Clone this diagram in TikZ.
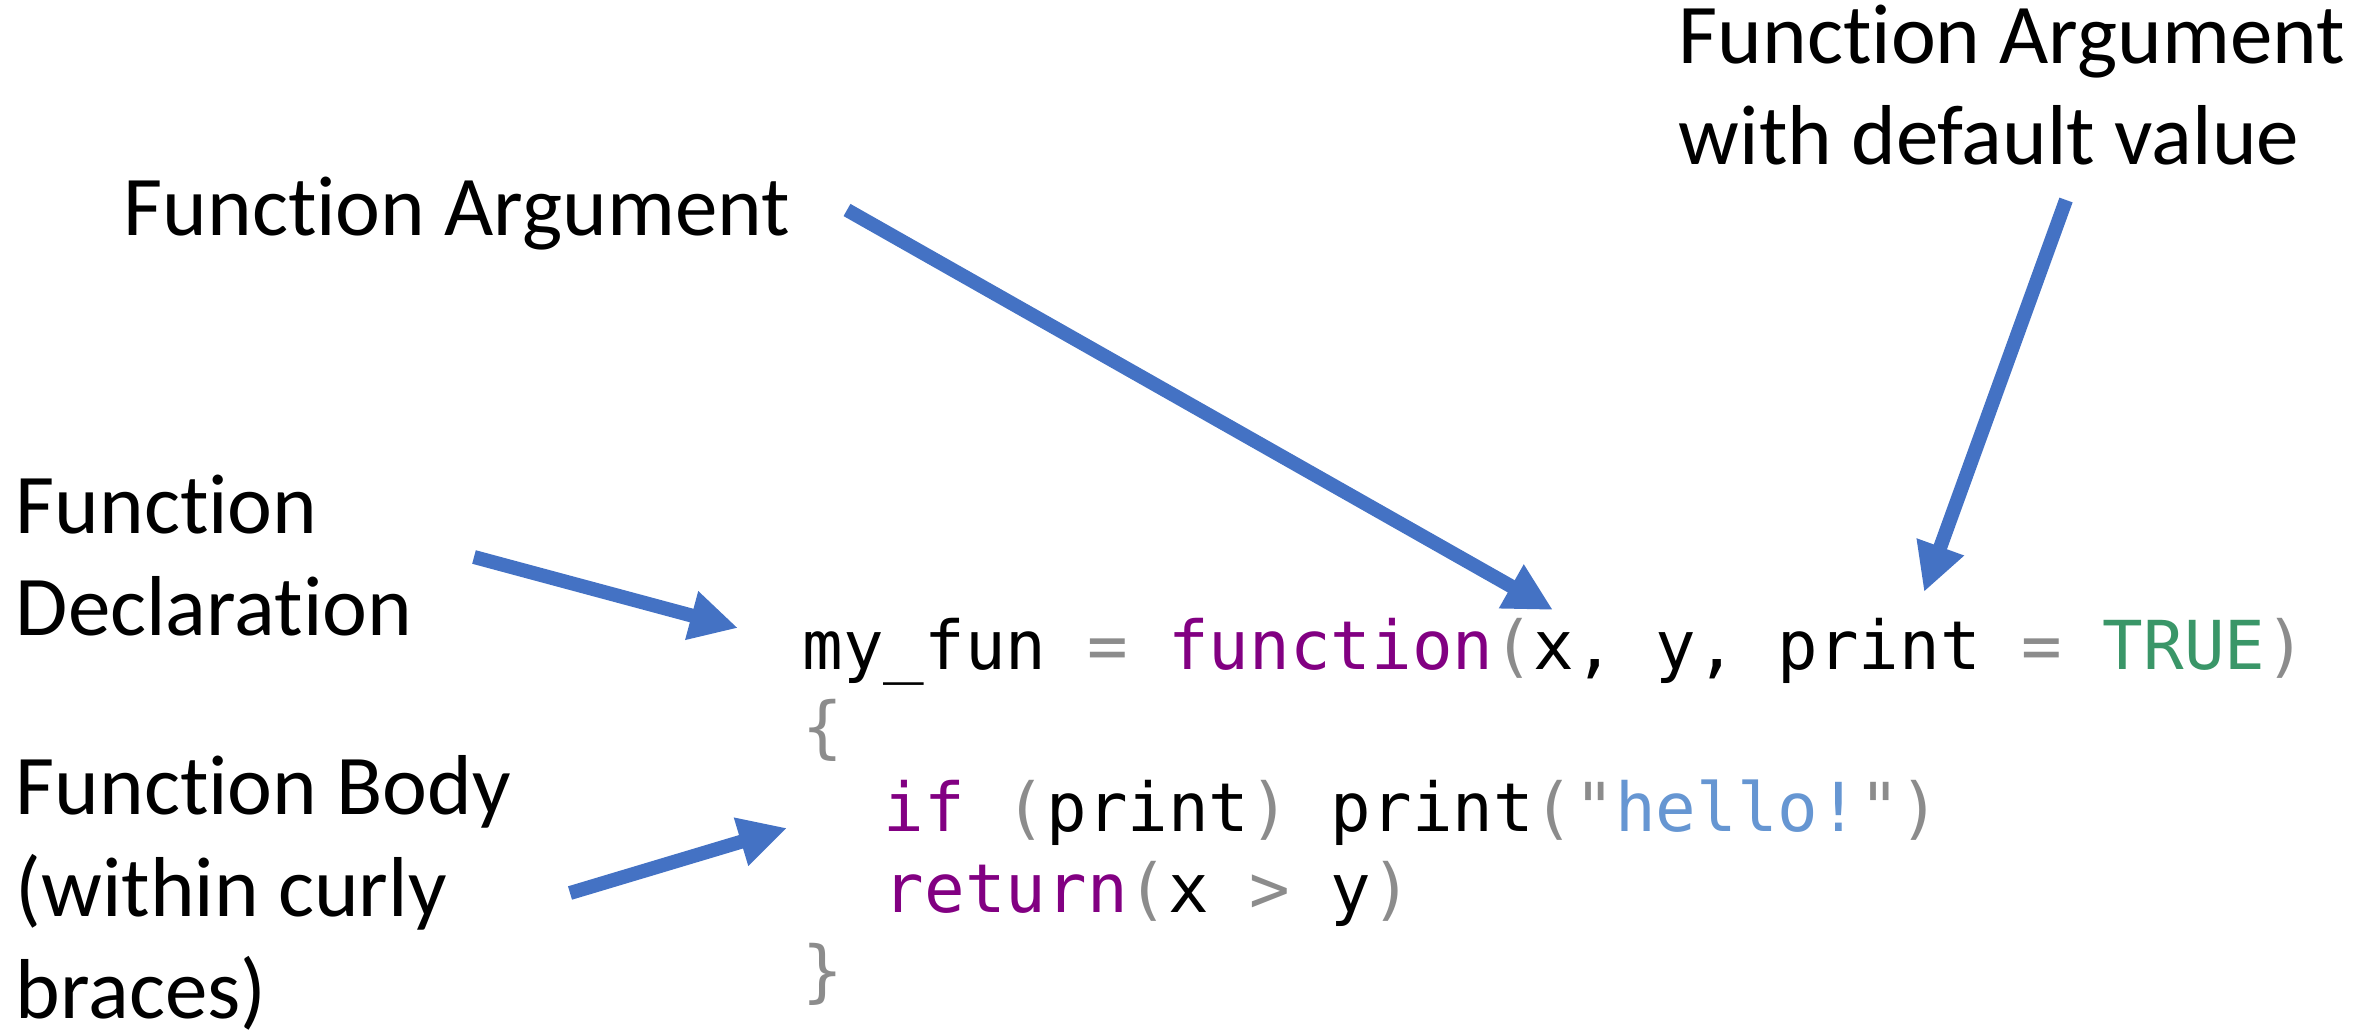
\documentclass[tikz,border=0pt]{standalone}
\usepackage{fontspec}
\setmainfont{Carlito}[Ligatures=NoCommon]
\newfontfamily\codefont{DejaVu Sans Mono}
\usetikzlibrary{arrows.meta}

\definecolor{arrowblue}{RGB}{68,114,196}
\definecolor{kwpurple}{RGB}{130,0,130}
\definecolor{truegreen}{RGB}{58,150,104}
\definecolor{strblue}{RGB}{102,150,210}
\definecolor{opgray}{RGB}{140,140,140}

\newcommand{\codekw}[1]{\textcolor{kwpurple}{#1}}
\newcommand{\codeop}[1]{\textcolor{opgray}{#1}}
\newcommand{\codestr}[1]{\textcolor{strblue}{#1}}
\newcommand{\codetrue}[1]{\textcolor{truegreen}{#1}}

% base west of a multi-line node sits on its last line
\tikzset{
  notetext/.style={inner sep=0pt, anchor=base west, align=left,
    font=\fontsize{24.2}{28.9}\selectfont},
  codetext/.style={inner sep=0pt, anchor=base west, align=left,
    font=\codefont\fontsize{19.2}{23.05}\selectfont},
  pointer/.style={draw=arrowblue, line width=0.14cm,
    -{Triangle[length=0.48cm,width=0.47cm]}}
}

\begin{document}
\begin{tikzpicture}
  \useasboundingbox (0,0) rectangle (23.79,-10.34);
  % labels
  \node[notetext] (argname) at (1.23,-2.36) {Function Argument};
  \node[notetext] (defname) at (16.78,-1.65) {Function Argument\\with default value};
  \node[notetext] (declname) at (0.15,-6.35) {Function\\Declaration};
  \node[notetext] (bodyname) at (0.15,-10.18) {Function Body\\(within curly\\braces)};
  % code
  \node[codetext] (code) at (8.02,-9.94) {%
    my\_fun \codeop{=} \codekw{function}\codeop{(}x, y, print \codeop{=} \codetrue{TRUE}\codeop{)}\\
    \codeop{\{}\\
    \phantom{xx}\codekw{if} \codeop{(}print\codeop{)} print\codeop{("}\codestr{hello!}\codeop{")}\\
    \phantom{xx}\codekw{return}\codeop{(}x \codeop{>} y\codeop{)}\\
    \codeop{\}}};
  % arrow ends
  \coordinate (argtail) at (8.47,-2.10);
  \coordinate (arghead) at (15.53,-6.10);
  \coordinate (deftail) at (20.66,-2.00);
  \coordinate (defhead) at (19.24,-5.92);
  \coordinate (decltail) at (4.74,-5.57);
  \coordinate (declhead) at (7.38,-6.28);
  \coordinate (bodytail) at (5.70,-8.93);
  \coordinate (bodyhead) at (7.87,-8.28);
  \draw[pointer] (argtail) -- (arghead);
  \draw[pointer] (deftail) -- (defhead);
  \draw[pointer] (decltail) -- (declhead);
  \draw[pointer] (bodytail) -- (bodyhead);
\end{tikzpicture}
\end{document}
